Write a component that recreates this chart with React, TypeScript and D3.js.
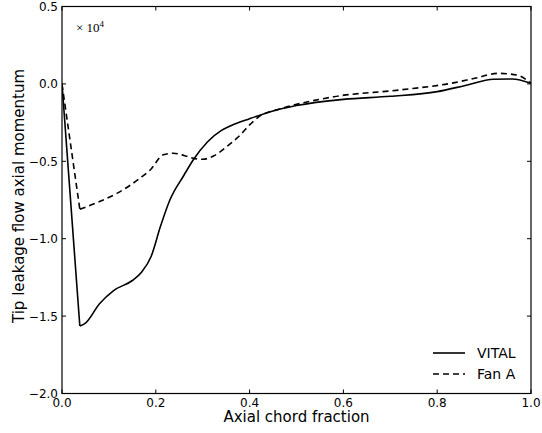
import React from "react";
import * as d3 from "d3";

const vitalX = [0.0, 0.038, 0.05, 0.08, 0.11, 0.15, 0.17, 0.19, 0.21, 0.23, 0.26, 0.28, 0.31, 0.34, 0.36, 0.40, 0.45, 0.50, 0.60, 0.70, 0.80, 0.86, 0.92, 0.96, 1.0];
const vitalY = [0.0, -1.564, -1.545, -1.42, -1.335, -1.27, -1.215, -1.115, -0.92, -0.75, -0.59, -0.49, -0.375, -0.30, -0.27, -0.225, -0.175, -0.14, -0.10, -0.08, -0.05, -0.01, 0.03, 0.032, 0.004];

const fanX = [0.0, 0.038, 0.053, 0.08, 0.117, 0.166, 0.188, 0.216, 0.237, 0.26, 0.28, 0.30, 0.323, 0.351, 0.38, 0.40, 0.42, 0.47, 0.58, 0.72, 0.83, 0.88, 0.93, 0.97, 1.0];
const fanY = [0.0, -0.81, -0.793, -0.76, -0.707, -0.61, -0.556, -0.458, -0.448, -0.462, -0.481, -0.487, -0.466, -0.406, -0.33, -0.265, -0.212, -0.158, -0.083, -0.039, 0.004, 0.036, 0.068, 0.057, 0.004];

const xTicks = [0.0, 0.2, 0.4, 0.6, 0.8, 1.0];
const yTicks = [0.5, 0.0, -0.5, -1.0, -1.5, -2.0];

const seriesNames = ["VITAL", "Fan A"];

export default function App() {
  const W = 542, H = 433;
  const left = 62, right = 531, top = 6.5, bottom = 393.5;
  const x = d3.scaleLinear().domain([0, 1]).range([left, right]);
  const y = d3.scaleLinear().domain([-2, 0.5]).range([bottom, top]);
  const smooth = d3.line<[number, number]>().x(d => x(d[0])).y(d => y(d[1])).curve(d3.curveMonotoneX);
  const straight = d3.line<[number, number]>().x(d => x(d[0])).y(d => y(d[1]));
  const build = (xs: number[], ys: number[]) => {
    const pts = xs.map((v, i) => [v, ys[i]] as [number, number]);
    // straight drop to the minimum, then a smooth curve
    return (straight(pts.slice(0, 2)) || "") + (smooth(pts.slice(1)) || "");
  };
  const vital = build(vitalX, vitalY);
  const fan = build(fanX, fanY);
  const fmt = (v: number) => (v < 0 ? "\u2212" : "") + Math.abs(v).toFixed(1);
  const font = "'DejaVu Sans', sans-serif";
  const tl = 4;
  return (
    <svg width={W} height={H} style={{ position: "absolute", left: 0, top: 0 }}>
      <rect width={W} height={H} fill="white" />
      <defs>
        <clipPath id="plot"><rect x={left} y={top} width={right - left} height={bottom - top} /></clipPath>
      </defs>
      <g clipPath="url(#plot)">
        <path d={vital} fill="none" stroke="black" strokeWidth={1.6} strokeLinejoin="miter" />
        <path d={fan} fill="none" stroke="black" strokeWidth={1.6} strokeDasharray="6,4" />
      </g>
      <rect x={left} y={top} width={right - left} height={bottom - top} fill="none" stroke="black" strokeWidth={1.2} />
      {xTicks.map(t => (
        <g key={"x" + t}>
          <line x1={x(t)} x2={x(t)} y1={bottom} y2={bottom - tl} stroke="black" />
          <line x1={x(t)} x2={x(t)} y1={top} y2={top + tl} stroke="black" />
          <text x={x(t)} y={bottom + 13.5} textAnchor="middle" fontFamily={font} fontSize={12}>{t.toFixed(1)}</text>
        </g>
      ))}
      {yTicks.map(t => (
        <g key={"y" + t}>
          <line x1={left} x2={left + tl} y1={y(t)} y2={y(t)} stroke="black" />
          <line x1={right} x2={right - tl} y1={y(t)} y2={y(t)} stroke="black" />
          <text x={left - 4} y={y(t) + 4.5} textAnchor="end" fontFamily={font} fontSize={12}>{fmt(t)}</text>
        </g>
      ))}
      <text x={76} y={32} fontFamily="'Liberation Serif', serif" fontSize={13}>
        {"\u00d7 10"}<tspan dy={-5} fontSize={9}>4</tspan>
      </text>
      <text x={(left + right) / 2} y={422} textAnchor="middle" fontFamily={font} fontSize={15}>Axial chord fraction</text>
      <text transform={`translate(24,196) rotate(-90)`} textAnchor="middle" fontFamily={font} fontSize={15}>Tip leakage flow axial momentum</text>
      <g>
        <line x1={433} x2={465} y1={353} y2={353} stroke="black" strokeWidth={1.6} />
        <text x={477} y={358} fontFamily={font} fontSize={14}>{seriesNames[0]}</text>
        <line x1={433} x2={465} y1={374} y2={374} stroke="black" strokeWidth={1.6} strokeDasharray="6,4" />
        <text x={477} y={379} fontFamily={font} fontSize={14}>{seriesNames[1]}</text>
      </g>
    </svg>
  );
}
